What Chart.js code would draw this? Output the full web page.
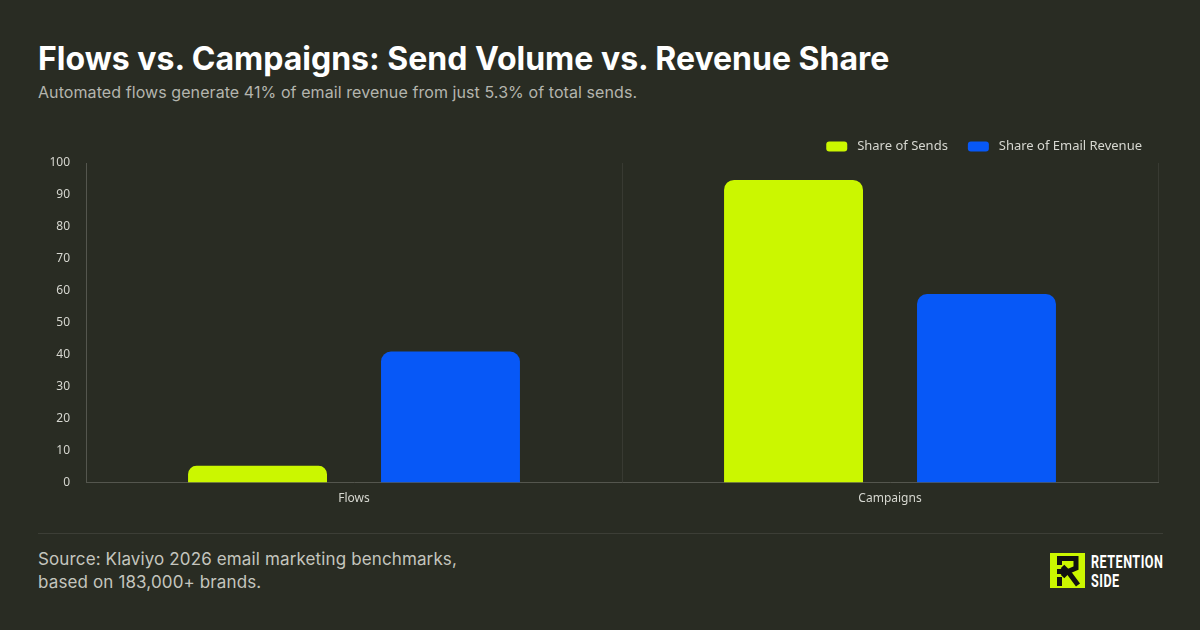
<!DOCTYPE html>
<html><head><meta charset="utf-8">
<script src="https://cdn.jsdelivr.net/npm/chart.js@4/dist/chart.umd.min.js"></script>
<style>
html,body{margin:0;padding:0;background:#292c23;width:1200px;height:630px;overflow:hidden}
body{position:relative;font-family:Inter,sans-serif}
#t{position:absolute;left:38px;top:40px;font:700 32px/38px Inter;color:#fff;white-space:nowrap}
#s{position:absolute;left:38px;top:81px;font:400 16px/22px Inter;letter-spacing:.08px;color:#b4b5ae;white-space:nowrap}
#c{position:absolute;left:0;top:120px;width:1200px;height:395px}
#r{position:absolute;left:38px;top:533px;width:1125px;height:1px;background:#3c3e36}
#f{position:absolute;left:38px;top:548px;font:400 17px/22.5px Inter;letter-spacing:.13px;color:#c4c5be;white-space:nowrap}
#l{position:absolute;left:1050px;top:553px}
.b{position:absolute;left:1091px;font:700 18px/18px Roboto;color:#fff;transform:scaleX(.7);transform-origin:0 0;letter-spacing:.7px;white-space:nowrap}
</style></head><body>
<div id="t">Flows vs. Campaigns: Send Volume vs. Revenue Share</div>
<div id="s">Automated flows generate 41% of email revenue from just 5.3% of total sends.</div>
<div id="c"><canvas id="cv" width="1200" height="395"></canvas></div>
<div id="r"></div>
<div id="f">Source: Klaviyo 2026 email marketing benchmarks,<br>based on 183,000+ brands.</div>
<svg id="l" width="35" height="35" viewBox="0 0 35 35"><rect width="35" height="35" fill="#cbf700"/><g fill="none" stroke="#111" stroke-width="5"><path d="M9.5 12V5.5H26V15L18 18.5L28 32"/><path d="M7 18.5H17"/><path d="M12.5 13.5L17.5 18.5L12.5 23.5"/><path d="M9.5 24V33"/></g></svg>
<div class="b" style="top:553px">RETENTION</div>
<div class="b" style="top:572px">SIDE</div>
<script>
const categories=["Flows","Campaigns"];
const sendsLabel="Share of Sends";
const revenueLabel="Share of Email Revenue";
const sends=[5.3,94.7];
const revenue=[41,59];
const lime="#cbf700", blue="#0758f7";
Chart.defaults.font.family="'Noto Sans'";
const legendFit={id:"legendFit",
 beforeUpdate(chart){chart.legend.afterFit=function(){this.height=43.5}},
 afterLayout(chart){chart.legend.right+=4}};
new Chart(document.getElementById("cv"),{
 type:"bar",
 plugins:[legendFit],
 data:{labels:categories,datasets:[
  {label:sendsLabel,data:sends,backgroundColor:lime,borderRadius:{topLeft:10,topRight:10},borderSkipped:"bottom"},
  {label:revenueLabel,data:revenue,backgroundColor:blue,borderRadius:{topLeft:10,topRight:10},borderSkipped:"bottom"}
 ]},
 options:{
  responsive:false,animation:false,
  categoryPercentage:.72,barPercentage:.72,
  layout:{padding:{left:0,right:42,top:0,bottom:0}},
  plugins:{tooltip:{enabled:false},
   legend:{position:"top",align:"end",
    labels:{color:"#d6d7d0",font:{size:13},boxWidth:21,boxHeight:10,padding:20,useBorderRadius:true,borderRadius:3,
     generateLabels(chart){const o=Chart.defaults.plugins.legend.labels.generateLabels(chart);o.forEach(i=>i.text=" "+i.text);return o}}}},
  scales:{
   x:{grid:{color:"#383a32",drawTicks:false,offset:true},border:{color:"#54564e"},
      ticks:{color:"#d6d7d0",font:{size:12},padding:9}},
   y:{min:0,max:100,afterFit(s){s.width=86},
      grid:{display:false,drawTicks:false},border:{color:"#54564e"},
      ticks:{stepSize:10,color:"#d6d7d0",font:{size:12},padding:16}}
  }
 }
});
</script>
</body></html>
